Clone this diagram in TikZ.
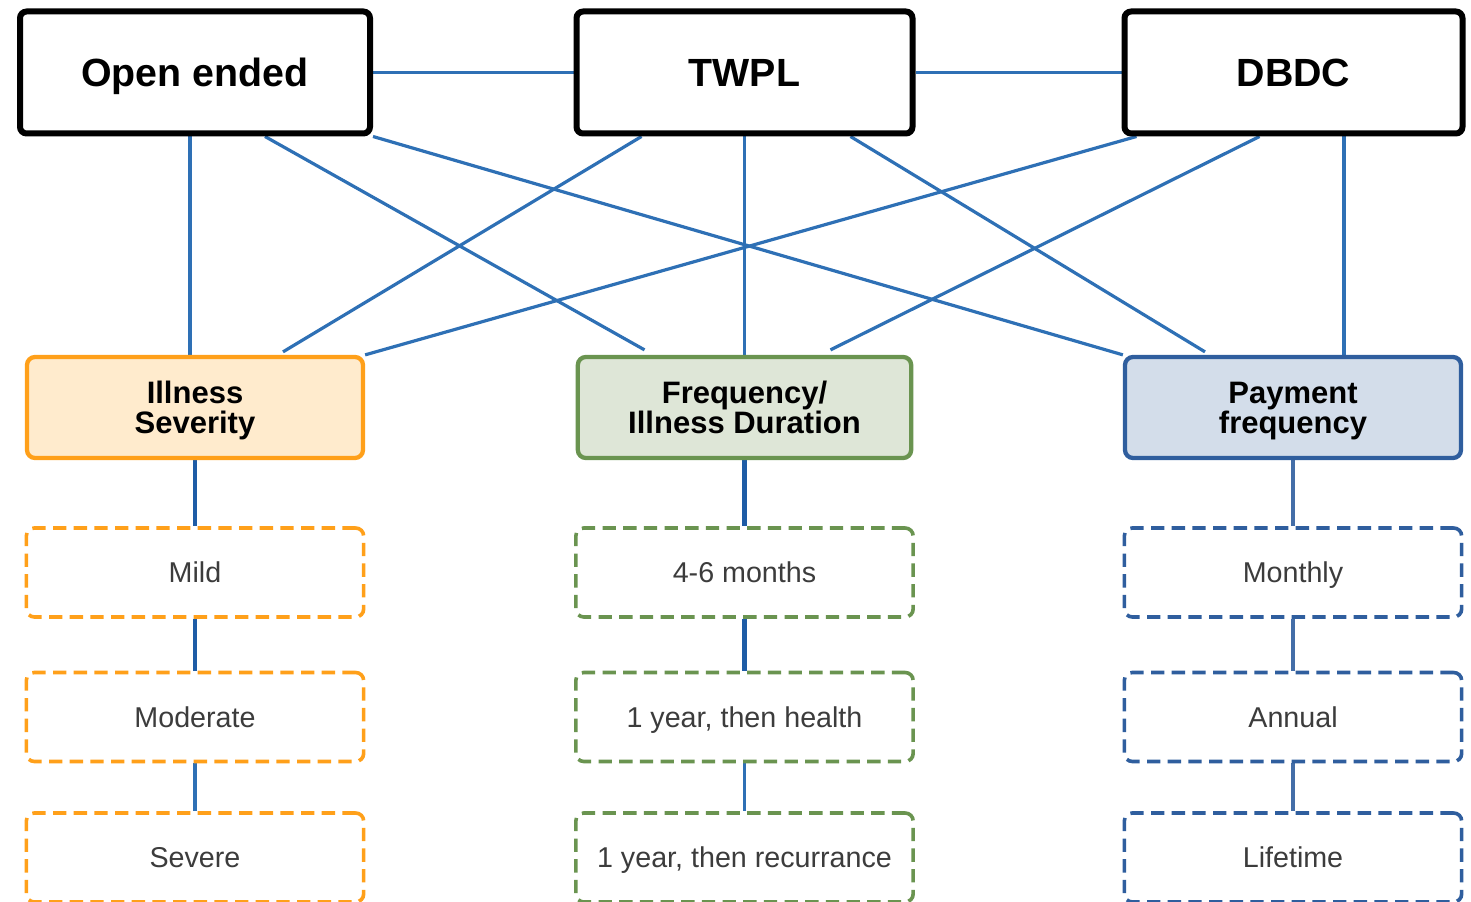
\documentclass[tikz,border=0pt]{standalone}
\usepackage{fontspec}
\setmainfont{Liberation Sans}
\usetikzlibrary{calc}
\pgfdeclarelayer{bg}
\pgfsetlayers{bg,main}
\definecolor{lnblue}{RGB}{46,112,181}
\definecolor{dkblue}{RGB}{30,92,166}
\definecolor{orbd}{RGB}{255,160,26}
\definecolor{orfill}{RGB}{255,235,205}
\definecolor{grbd}{RGB}{106,148,80}
\definecolor{grfill}{RGB}{222,230,215}
\definecolor{bubd}{RGB}{47,94,158}
\definecolor{bufill}{RGB}{211,221,234}
\definecolor{txtgray}{RGB}{60,60,60}
\newcommand\twolines[2]{\vbox{\baselineskip=22.5pt\halign{\hfil##\hfil\cr#1\cr#2\cr}}}
\begin{document}
\begin{tikzpicture}[x=0.75pt,y=-0.75pt,
  topbox/.style={draw=black, line width=4.5pt, rounded corners=5pt, fill=white,
    minimum height=91.5pt, inner sep=0pt,
    font=\fontsize{29.5}{34}\selectfont\bfseries, text height=21.1pt, text depth=0pt},
  catbox/.style={line width=3.2pt, rounded corners=6pt, minimum width=252pt,
    minimum height=75.75pt, inner sep=0pt,
    font=\fontsize{23.25}{22.5}\selectfont\bfseries, text height=39.1pt, text depth=0pt},
  optbox/.style={line width=2.7pt, dash pattern=on 10pt off 5.5pt, rounded corners=6pt,
    fill=white, minimum width=253pt, minimum height=66.75pt, inner sep=0pt,
    text=txtgray, font=\fontsize{21.5}{26}\selectfont, text height=15.4pt, text depth=0pt},
  conn/.style={draw=lnblue, line width=2.4pt},
  vconn/.style={draw=dkblue, line width=3.2pt},
  vconnl/.style={draw=lnblue, line width=2.5pt},
  pconn/.style={draw=bubd!90!white, line width=2.7pt}]
\useasboundingbox (0,0) rectangle (1471,902);
% top boxes
\node[topbox, minimum width=262.5pt] (oe) at (195,72.5) {Open ended};
\node[topbox, minimum width=252pt] (tw) at (744.5,72.5) {TWPL};
\node[topbox, minimum width=253.5pt] (db) at (1293.5,72.5) {DBDC};
% category boxes
\node[catbox, draw=orbd, fill=orfill] (is) at (195,407.5) {\twolines{Illness}{Severity}};
\node[catbox, draw=grbd, fill=grfill, minimum width=250pt] (fr) at (744.5,407.5) {\twolines{Frequency/}{Illness Duration}};
\node[catbox, draw=bubd, fill=bufill] (pay) at (1293,407.5) {\twolines{Payment}{frequency}};
% option boxes
\node[optbox, draw=orbd] (mild) at (195,572.5) {Mild};
\node[optbox, draw=orbd] (mod) at (195,717) {Moderate};
\node[optbox, draw=orbd] (sev) at (195,857.5) {Severe};
\node[optbox, draw=grbd] (m46) at (744.5,572.5) {4-6 months};
\node[optbox, draw=grbd] (yh) at (744.5,717) {1 year, then health};
\node[optbox, draw=grbd] (yr) at (744.5,857.5) {1 year, then recurrance};
\node[optbox, draw=bubd] (mon) at (1293,572.5) {Monthly};
\node[optbox, draw=bubd] (ann) at (1293,717) {Annual};
\node[optbox, draw=bubd] (life) at (1293,857.5) {Lifetime};
\begin{pgfonlayer}{bg}
\draw[conn] (oe.east) -- (tw.west);
\draw[conn] (tw.east) -- (db.west);
\draw[conn] ($(oe.south)+(-5,0)$) -- ($(is.north)+(-5,0)$);
\draw[conn] ($(oe.south)+(70,0)$) -- ($(fr.north)+(-100,-5)$);
\draw[conn] (oe.south east) -- (pay.north west);
\draw[conn] ($(tw.south)+(-103,0)$) -- ($(is.north)+(88,-3)$);
\draw[conn] (tw.south) -- (fr.north);
\draw[conn] ($(tw.south)+(106,0)$) -- ($(pay.north)+(-88,-3)$);
\draw[conn] ($(db.south west)+(15,0)$) -- (is.north east);
\draw[conn] ($(db.south)+(-34,0)$) -- ($(fr.north)+(86,-5)$);
\draw[conn] ($(db.south)+(50.5,0)$) -- ($(pay.north)+(51,0)$);
\draw[vconn] (is.south) -- (mild.north);
\draw[vconn] (mild.south) -- (mod.north);
\draw[vconnl] (mod.south) -- (sev.north);
\draw[vconn] (fr.south) -- (m46.north);
\draw[vconn] (m46.south) -- (yh.north);
\draw[vconnl] (yh.south) -- (yr.north);
\draw[pconn] (pay.south) -- (mon.north);
\draw[pconn] (mon.south) -- (ann.north);
\draw[pconn] (ann.south) -- (life.north);
\end{pgfonlayer}
\end{tikzpicture}
\end{document}
